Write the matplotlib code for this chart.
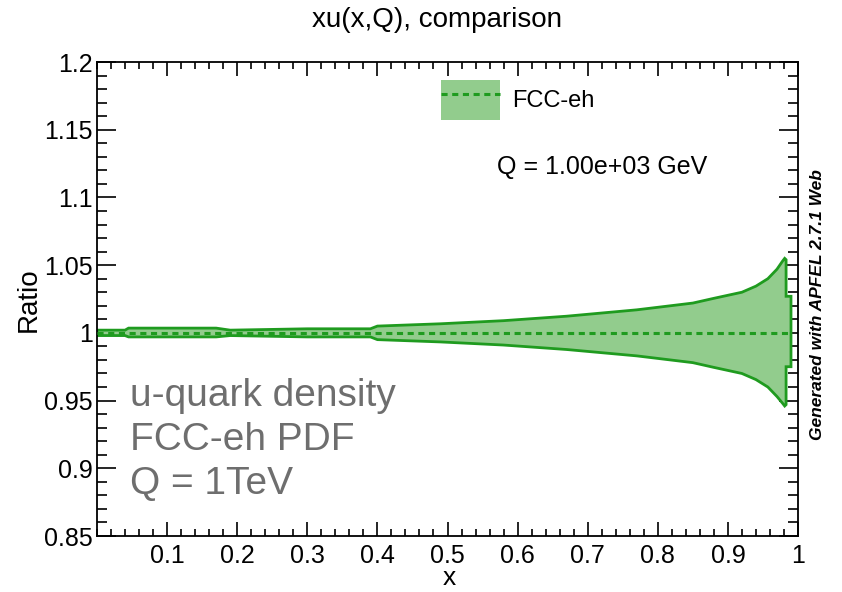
import matplotlib
matplotlib.use("Agg")
import matplotlib.pyplot as plt
from matplotlib.patches import Patch
from matplotlib.lines import Line2D
from matplotlib.ticker import MultipleLocator, FixedLocator

plt.rcParams['font.family'] = ['Liberation Sans', 'DejaVu Sans']

# ---- data ----
x_vals = [0.0, 0.04, 0.045, 0.17, 0.19, 0.30, 0.39, 0.40, 0.49, 0.58, 0.67,
          0.77, 0.85, 0.88, 0.92, 0.94, 0.957, 0.97, 0.978, 0.981, 0.983, 0.983, 0.99]
upper = [1.002, 1.002, 1.0035, 1.0035, 1.002, 1.003, 1.003, 1.005, 1.0067, 1.009, 1.0123,
         1.017, 1.022, 1.0255, 1.030, 1.0345, 1.040, 1.047, 1.053, 1.055, 1.054, 1.027, 1.027]
lower = [0.998, 0.998, 0.997, 0.997, 0.998, 0.997, 0.997, 0.995, 0.9933, 0.991, 0.9877,
         0.983, 0.978, 0.9745, 0.970, 0.9655, 0.960, 0.953, 0.948, 0.946, 0.947, 0.975, 0.975]
central_x = [0.0, 0.99]
central_y = [1.0, 1.0]

x_major = [0.1, 0.2, 0.3, 0.4, 0.5, 0.6, 0.7, 0.8, 0.9, 1.0]
x_labels = ["0.1", "0.2", "0.3", "0.4", "0.5", "0.6", "0.7", "0.8", "0.9", "1"]
y_major = [0.85, 0.9, 0.95, 1.0, 1.05, 1.1, 1.15, 1.2]
y_labels = ["0.85", "0.9", "0.95", "1", "1.05", "1.1", "1.15", "1.2"]

title = "xu(x,Q), comparison"
series_name = "FCC-eh"
q_text = "Q = 1.00e+03 GeV"
note = "u-quark density\nFCC-eh PDF\nQ = 1TeV"
watermark = "Generated with APFEL 2.7.1 Web"

fill_col = "#92cc8d"
line_col = "#1f9b1f"

fig = plt.figure(figsize=(8.42, 5.92), dpi=100)
ax = fig.add_axes([97/842, 1-536/592, 701/842, 474/592])

# band polygon
poly_x = list(x_vals) + list(reversed(x_vals))
poly_y = list(upper) + list(reversed(lower))
ax.fill(poly_x, poly_y, facecolor=fill_col, edgecolor=line_col, linewidth=2.0, zorder=2)
ax.plot(central_x, central_y, color=line_col, linestyle=(0, (2, 1.5)), linewidth=2.2, zorder=3)

ax.set_xlim(0, 1)
ax.set_ylim(0.85, 1.2)

ax.xaxis.set_major_locator(FixedLocator(x_major))
ax.set_xticklabels(x_labels)
ax.xaxis.set_minor_locator(MultipleLocator(0.02))
ax.yaxis.set_major_locator(FixedLocator(y_major))
ax.set_yticklabels(y_labels)
ax.yaxis.set_minor_locator(MultipleLocator(0.01))

ax.tick_params(which='both', direction='in', top=True, right=True, width=1.2,
               labelsize=18, colors='black')
ax.tick_params(axis='x', which='major', length=10, pad=6)
ax.tick_params(axis='x', which='minor', length=5)
ax.tick_params(axis='y', which='major', length=14, pad=3)
ax.tick_params(axis='y', which='minor', length=7)
for s in ax.spines.values():
    s.set_linewidth(1.3)

ax.set_xlabel("x", fontsize=19)
ax.xaxis.set_label_coords(0.502, -0.088)
ax.xaxis.label.set_va('center')
ax.set_ylabel("Ratio", fontsize=20)
ax.yaxis.set_label_coords(-0.098, 0.498)
ax.yaxis.label.set_va('center')

fig.text(437/842, 1-20/592, title, fontsize=20, ha='center', va='center')

# legend
h = (Patch(facecolor=fill_col, edgecolor='none'),
     Line2D([0], [0], color=line_col, linestyle=(0, (2, 1.5)), linewidth=2.2))
leg = ax.legend([h], [series_name], loc='upper left', bbox_to_anchor=(0.491, 0.962),
                frameon=False, fontsize=17, handlelength=2.5, handleheight=2.2,
                handletextpad=0.5, borderpad=0, borderaxespad=0)

ax.text(0.571, 0.778, q_text, transform=ax.transAxes, fontsize=18, va='center', ha='left')

ax.text(0.047, 0.2025, note, transform=ax.transAxes, fontsize=28, color='#6e6e6e',
        va='center', ha='left', linespacing=1.3)

fig.text(818/842, 1-305/592, watermark, rotation=90, fontsize=12.5, fontweight='bold',
         fontstyle='italic', ha='center', va='center')

fig.savefig("out.png", dpi=100)
